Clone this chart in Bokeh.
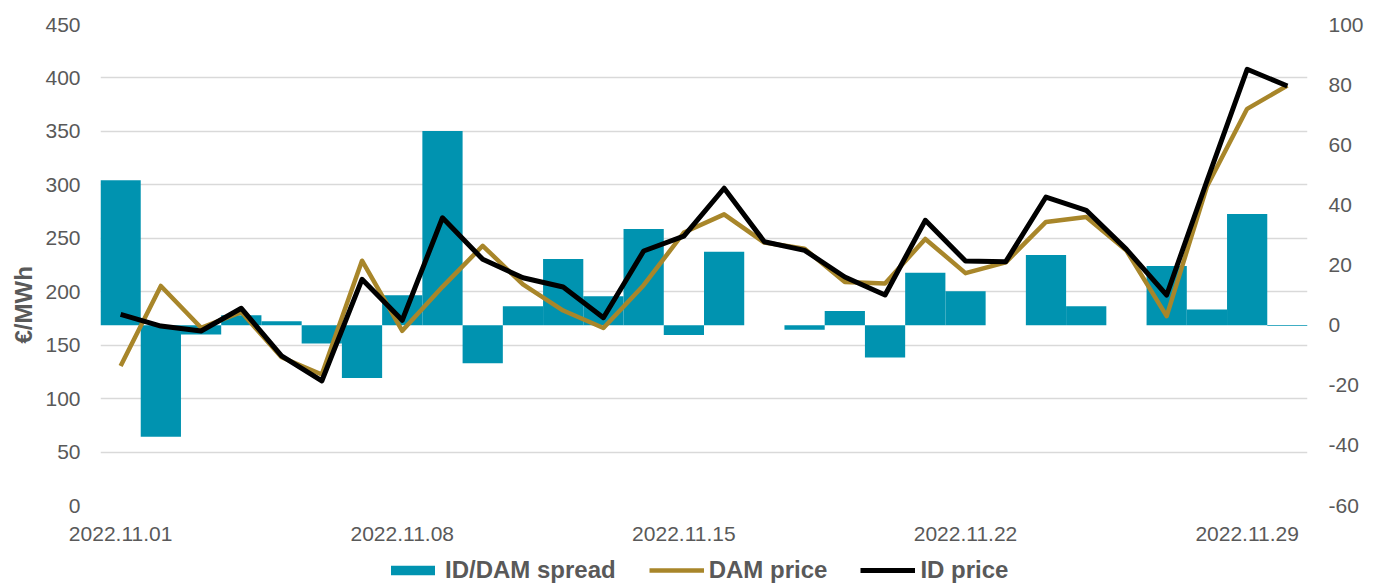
from bokeh.plotting import figure
from bokeh.layouts import column
from bokeh.models import (Range1d, LinearAxis, FixedTicker, Legend, LegendItem,
                          ColumnDataSource, Title)
from bokeh.embed import file_html
from bokeh.resources import INLINE

# ---- data ----
dates = ["2022.11.%02d" % d for d in range(1, 31)]
spread = [48.2, -37.1, -3.1, 3.3, 1.3, -6.1, -17.6, 9.9, 64.6, -12.7,
          6.3, 22.0, 9.6, 32.0, -3.3, 24.4, 0.0, -1.5, 4.7, -10.8,
          17.4, 11.3, 0.0, 23.3, 6.3, 0.0, 19.7, 5.2, 37.0, -0.3]
dam_price = [130.5, 205.4, 166.3, 181.0, 138.7, 122.6, 229.0, 163.4, 204.6, 243.0,
             206.8, 182.4, 166.1, 206.1, 255.4, 272.4, 246.0, 240.2, 209.1, 207.7,
             249.4, 217.4, 227.5, 265.3, 269.9, 238.5, 177.2, 298.4, 371.1, 392.8]
id_price = [178.9, 167.9, 163.3, 184.5, 140.0, 116.5, 211.6, 173.3, 269.2, 230.3,
            213.1, 204.4, 175.7, 238.1, 252.1, 296.8, 246.8, 238.7, 213.8, 196.9,
            266.8, 228.7, 228.1, 288.6, 276.2, 239.6, 196.9, 303.6, 408.1, 392.5]
series_names = ["ID/DAM spread", "DAM price", "ID price"]
y_title = "€/MWh"
label_days = [0, 7, 14, 21, 28]
left_ticks = [0, 50, 100, 150, 200, 250, 300, 350, 400, 450]
right_ticks = [-60, -40, -20, 0, 20, 40, 60, 80, 100]

FONT = "Liberation Sans"
TXT = "#595959"
BAR = "#0093B0"
GOLD = "#A8862A"
W = 1380

idx = list(range(len(dates)))
src = ColumnDataSource(dict(x=idx, date=dates, spread=spread, dam=dam_price, idp=id_price))

p = figure(width=W, height=557, output_backend="svg", toolbar_location=None,
           x_range=Range1d(-0.5, len(dates) - 0.5), y_range=Range1d(0, 450),
           min_border_left=100, min_border_right=73, min_border_top=24, min_border_bottom=52)
p.extra_y_ranges = {"spread": Range1d(-60, 100)}
p.outline_line_color = None

bar_kw = dict(fill_color=BAR, line_color=None)
dam_kw = dict(line_color=GOLD, line_width=4.5, line_join="round")
id_kw = dict(line_color="black", line_width=5, line_join="round")

p.vbar(x="x", top="spread", bottom=0, width=1.0, source=src, y_range_name="spread", **bar_kw)
p.line("x", "dam", source=src, **dam_kw)
p.line("x", "idp", source=src, **id_kw)

p.xgrid.visible = False
p.ygrid.grid_line_color = "#d9d9d9"
p.ygrid.grid_line_width = 1.5
p.ygrid.ticker = FixedTicker(ticks=left_ticks)

def style_axis(ax):
    ax.axis_line_color = None
    ax.major_tick_line_color = None
    ax.minor_tick_line_color = None
    ax.major_tick_out = 0
    ax.major_tick_in = 0
    ax.major_label_text_font = FONT
    ax.major_label_text_font_size = "21px"
    ax.major_label_text_color = TXT
    ax.major_label_standoff = 20

ly = p.yaxis[0]
style_axis(ly)
ly.ticker = FixedTicker(ticks=left_ticks)

ry = LinearAxis(y_range_name="spread", ticker=FixedTicker(ticks=right_ticks))
style_axis(ry)
ry.major_label_standoff = 21
ry.major_label_overrides = {t: str(t) for t in right_ticks}
p.add_layout(ry, "right")

bx = p.xaxis[0]
style_axis(bx)
bx.major_label_standoff = 21
bx.ticker = FixedTicker(ticks=label_days)
bx.major_label_overrides = {i: dates[i] for i in label_days}

# y-axis title, placed off-centre as in the reference
yt = Title(text=y_title, align="left", offset=162, standoff=11,
           text_font=FONT, text_font_size="24px", text_font_style="bold",
           text_color=TXT)
p.add_layout(yt, "left")

# ---- legend strip ----
lg = figure(width=W, height=27, output_backend="svg", toolbar_location=None,
            x_range=Range1d(0, 1), y_range=Range1d(0, 1),
            x_axis_location=None, y_axis_location=None,
            min_border_left=0, min_border_right=0, min_border_top=0, min_border_bottom=0)
lg.grid.visible = False
lg.outline_line_color = None
dummy = ColumnDataSource(dict(x=[-10, -11], y=[-10, -11], top=[-10, -11]))
r1 = lg.vbar(x="x", top="top", width=1, source=dummy, **bar_kw)
r2 = lg.line("x", "y", source=dummy, **dam_kw)
r3 = lg.line("x", "y", source=dummy, **id_kw)
legend = Legend(items=[LegendItem(label=series_names[0], renderers=[r1]),
                       LegendItem(label=series_names[1], renderers=[r2]),
                       LegendItem(label=series_names[2], renderers=[r3])],
                orientation="horizontal", location=(285, 0),
                glyph_width=55, glyph_height=12, label_standoff=5, spacing=33,
                padding=0, margin=0, border_line_color=None, background_fill_alpha=0,
                label_text_font=FONT, label_text_font_size="24px",
                label_text_font_style="bold", label_text_color=TXT)
lg.add_layout(legend)

open("out.html", "w").write(file_html(column(p, lg), INLINE))
